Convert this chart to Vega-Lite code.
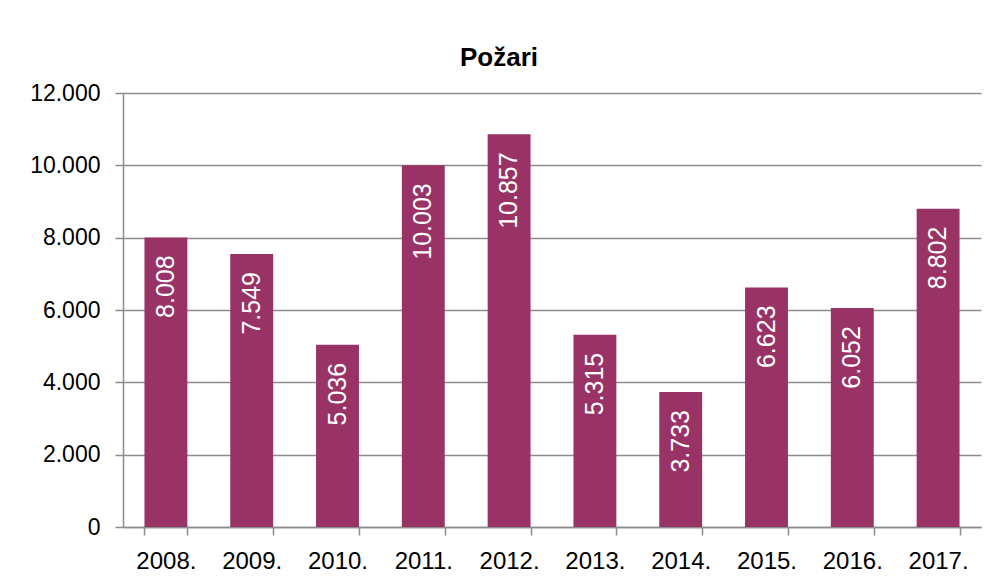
{
  "$schema": "https://vega.github.io/schema/vega-lite/v6.json",
  "width": 858,
  "height": 434,
  "autosize": {"type": "none"},
  "padding": {"left": 123, "top": 93, "right": 15, "bottom": 49},
  "background": "white",
  "config": {
    "locale": {"number": {"decimal": ",", "thousands": ".", "grouping": [3], "currency": ["", ""]}},
    "font": "Liberation Sans",
    "view": {"stroke": null}
  },
  "title": {
    "text": "Požari",
    "font": "Liberation Sans",
    "fontSize": 26,
    "fontWeight": "bold",
    "color": "#000000",
    "anchor": "middle",
    "dx": -53,
    "offset": 11
  },
  "data": {
    "values": [
      {"year": "2008.", "value": 8008},
      {"year": "2009.", "value": 7549},
      {"year": "2010.", "value": 5036},
      {"year": "2011.", "value": 10003},
      {"year": "2012.", "value": 10857},
      {"year": "2013.", "value": 5315},
      {"year": "2014.", "value": 3733},
      {"year": "2015.", "value": 6623},
      {"year": "2016.", "value": 6052},
      {"year": "2017.", "value": 8802}
    ]
  },
  "encoding": {
    "x": {
      "field": "year",
      "type": "nominal",
      "sort": null,
      "scale": {"paddingInner": 0.5, "paddingOuter": 0.25},
      "axis": {
        "title": null,
        "labelAngle": 0,
        "labelFontSize": 24,
        "labelColor": "#000000",
        "labelPadding": 14,
        "domainColor": "#8c8c8c",
        "domainWidth": 1.5,
        "tickColor": "#8c8c8c",
        "tickWidth": 1.5,
        "tickSize": 8,
        "tickBand": "extent",
        "grid": false
      }
    },
    "y": {
      "field": "value",
      "type": "quantitative",
      "scale": {"domain": [0, 12000], "nice": false},
      "axis": {
        "title": null,
        "values": [0, 2000, 4000, 6000, 8000, 10000, 12000],
        "format": ",d",
        "labelFontSize": 23,
        "labelColor": "#000000",
        "labelPadding": 15,
        "domainColor": "#8c8c8c",
        "domainWidth": 1.5,
        "tickColor": "#8c8c8c",
        "tickWidth": 1.5,
        "tickSize": 8,
        "grid": true,
        "gridColor": "#8c8c8c",
        "gridWidth": 1.5
      }
    }
  },
  "layer": [
    {"mark": {"type": "bar", "color": "#993366"}},
    {
      "mark": {
        "type": "text",
        "angle": 270,
        "align": "right",
        "baseline": "middle",
        "dx": -18,
        "color": "#ffffff",
        "fontSize": 25
      },
      "encoding": {
        "text": {"field": "value", "type": "quantitative", "format": ",d"}
      }
    }
  ]
}
